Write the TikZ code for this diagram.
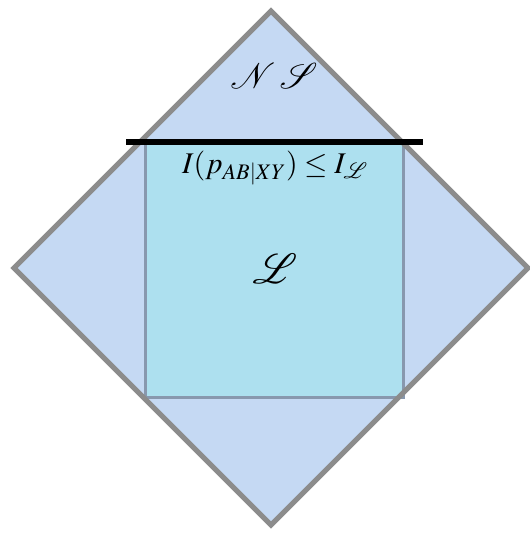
\documentclass[tikz,border=0pt]{standalone}
\usepackage{mathptmx}
\DeclareFontFamily{U}{rsfs}{\skewchar\font127 }
\DeclareFontShape{U}{rsfs}{m}{n}{<-> s*[1.0] rsfs10}{}
\usepackage{mathrsfs}
\definecolor{dfill}{HTML}{C5D9F3}
\definecolor{dline}{HTML}{8C8C8C}
\definecolor{sfill}{HTML}{ADE0EF}
\definecolor{sline}{HTML}{8898AE}
\tikzset{
  dia/.style={draw=dline,line width=5pt,line join=miter},
  sq/.style={draw=sline,line width=3pt},
  bar/.style={line width=6pt,black},
  lab/.style={inner sep=0pt,font=\fontsize{30}{36}\selectfont}
}
\begin{document}
\begin{tikzpicture}[x=1pt,y=1pt]
\useasboundingbox (0,0) rectangle (529,534);
% diamond
\coordinate (dt) at (271,523);
\coordinate (dl) at (14,266);
\coordinate (db) at (271,9);
\coordinate (dr) at (528,266);
\fill[dfill] (dt) -- (dr) -- (db) -- (dl) -- cycle;
% square
\coordinate (s1) at (145,393);
\coordinate (s2) at (403,136);
\fill[sfill] (s1) rectangle (s2);
\draw[sq] (s1) rectangle (s2);
\draw[dia] (dt) -- (dr) -- (db) -- (dl) -- cycle;
% bar
\coordinate (b1) at (126,392);
\coordinate (b2) at (423,392);
\draw[bar] (b1) -- (b2);
% labels
\node[lab,font=\fontsize{36}{42}\selectfont] (ns) at (274,458) {$\mathscr{N}\,\mathscr{S}$};
\node[lab] (ineq) at (275,366) {$I(p_{AB|XY})\leq I_{\mathscr{L}}$};
\node[lab,font=\fontsize{42}{48}\selectfont] (L) at (275,265) {$\mathscr{L}$};
\end{tikzpicture}
\end{document}
